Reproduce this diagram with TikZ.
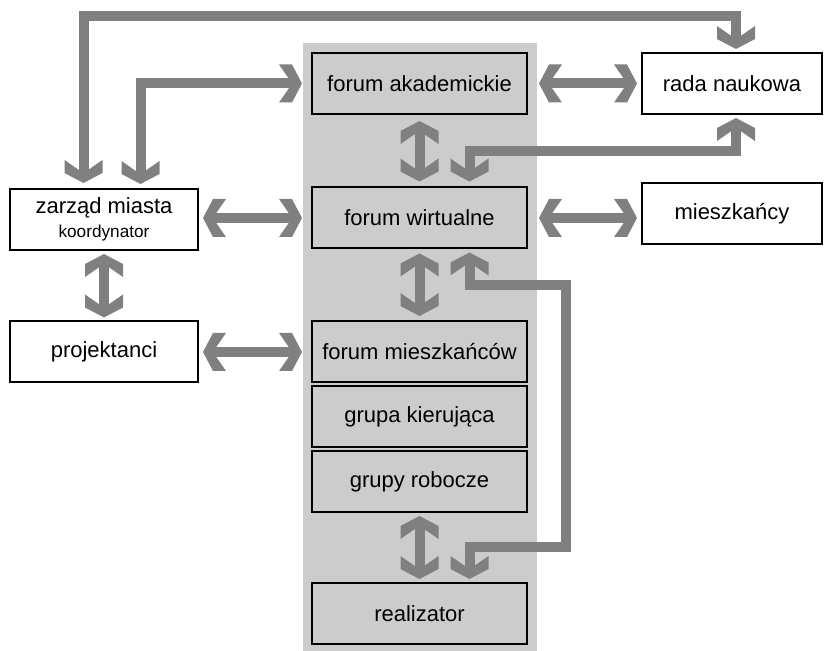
\documentclass[tikz,border=0pt]{standalone}
\usepackage{fontspec}
\setmainfont{Liberation Sans}
\usetikzlibrary{arrows.meta}
\definecolor{bggray}{RGB}{204,204,204}
\definecolor{arrgray}{RGB}{128,128,128}
\pgfdeclarearrow{
  name = Chev,
  setup code = {
    \pgfarrowssettipend{0pt}
    \pgfarrowssetbackend{-11.5pt}
    \pgfarrowssetlineend{-4pt}
    \pgfarrowshullpoint{0pt}{0pt}
    \pgfarrowsupperhullpoint{-11.5pt}{9.5pt}
  },
  drawing code = {
    \pgfpathmoveto{\pgfqpoint{0pt}{0pt}}
    \pgfpathlineto{\pgfqpoint{-5pt}{9.5pt}}
    \pgfpathlineto{\pgfqpoint{-11.5pt}{9.5pt}}
    \pgfpathlineto{\pgfqpoint{-4.9pt}{0pt}}
    \pgfpathlineto{\pgfqpoint{-11.5pt}{-9.5pt}}
    \pgfpathlineto{\pgfqpoint{-5pt}{-9.5pt}}
    \pgfpathclose
    \pgfusepathqfill
  }
}
\tikzset{
  box/.style={draw=black, line width=1pt, inner sep=0pt, align=center,
    font=\fontsize{11}{13}\selectfont},
  cbox/.style={box, fill=bggray, minimum width=107.5pt, minimum height=30.5pt},
  lbox/.style={box, fill=white, minimum width=94pt, minimum height=30.5pt},
  rbox/.style={box, fill=white, minimum width=90pt, minimum height=30.5pt},
  arr/.style={draw=arrgray, line width=5pt, {Chev}-{Chev}},
}
\begin{document}
\begin{tikzpicture}[x=0.5pt, y=-0.5pt]
\useasboundingbox (0,0) rectangle (824,651);
\fill[bggray] (303,43) rectangle (537,651);

% centre column
\node[cbox] (fa) at (419.5,83.5) {forum akademickie};
\node[cbox] (fw) at (419.5,218) {forum wirtualne};
\node[cbox] (fm) at (419.5,351.5) {forum mieszkańców};
\node[cbox] (gk) at (419.5,417) {grupa kierująca};
\node[cbox] (gr) at (419.5,481.5) {grupy robocze};
\node[cbox] (re) at (419.5,613.5) {realizator};
% left
\node[lbox] (zm) at (104,219.5) {zarząd miasta\\[-1pt]{\fontsize{8.6}{10}\selectfont koordynator}};
\node[lbox] (pr) at (104,352) {projektanci};
% right
\node[rbox] (rn) at (732,83.5) {rada naukowa};
\node[rbox] (mi) at (732,214) {mieszkańcy};

% connectors
\draw[arr, shorten <=2.5pt, shorten >=1.5pt]
  (83.5,0 |- zm.north) -- (83.5,16) -| (736,0 |- rn.north);
\draw[arr, shorten <=2pt, shorten >=4.5pt]
  (140.5,0 |- zm.north) |- (fa.west);
\draw[arr, shorten <=5.5pt, shorten >=2pt] (fa.east) -- (rn.west);
\draw[arr, shorten <=3pt, shorten >=2.5pt] (fa.south) -- (fw.north);
\draw[arr, shorten <=1.5pt, shorten >=2.5pt]
  (736,0 |- rn.south) -- (736,150.8) -| (469.5,0 |- fw.north);
\draw[arr, shorten <=2pt, shorten >=4.5pt] (zm.east |- fw.west) -- (fw.west);
\draw[arr, shorten <=5.5pt, shorten >=2pt] (fw.east) -- (mi.west |- fw.east);
\draw[arr, shorten <=1.5pt, shorten >=1.5pt] (zm.south) -- (pr.north);
\draw[arr, shorten <=2pt, shorten >=4.5pt] (pr.east) -- (pr.east -| fm.west);
\draw[arr, shorten <=2pt, shorten >=2pt] (fw.south) -- (fm.north);
\draw[arr, shorten <=1.5pt, shorten >=1.5pt]
  (469.5,0 |- fw.south) |- (565.5,285) |- (469.5,547) -- (469.5,0 |- re.north);
\draw[arr, shorten <=1.5pt, shorten >=1.5pt] (gr.south) -- (re.north);
\end{tikzpicture}
\end{document}
